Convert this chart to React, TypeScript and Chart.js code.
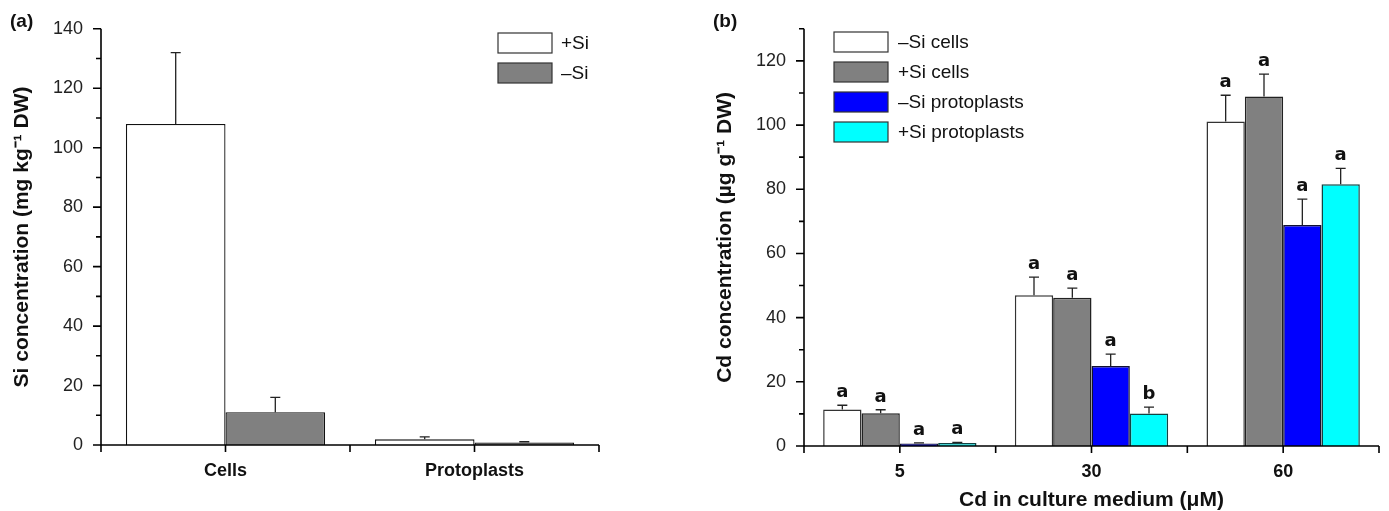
import React, { useEffect, useRef } from 'react';
import { Chart, registerables } from 'chart.js';

Chart.register(...registerables);

// ---------- Panel (a) data ----------
const groupsA = ['Cells', 'Protoplasts'];
const plusSiA = [108, 1.9];
const plusSiAErr = [24, 0.8];
const minusSiA = [11, 0.8];
const minusSiAErr = [5, 0.3];
const yMaxA = 140;
const yStepA = 20;

// ---------- Panel (b) data ----------
const dosesB = ['5', '30', '60'];
const minusSiCells = [11.4, 47.0, 101.1];
const minusSiCellsErr = [1.3, 5.6, 8.2];
const plusSiCells = [10.2, 46.2, 108.9];
const plusSiCellsErr = [1.1, 3.0, 7.0];
const minusSiProto = [0.8, 24.9, 68.9];
const minusSiProtoErr = [0.2, 3.7, 8.0];
const plusSiProto = [0.9, 10.1, 81.6];
const plusSiProtoErr = [0.2, 2.0, 4.9];
const lettersMinusSiCells = ['a', 'a', 'a'];
const lettersPlusSiCells = ['a', 'a', 'a'];
const lettersMinusSiProto = ['a', 'a', 'a'];
const lettersPlusSiProto = ['a', 'b', 'a'];
const yMaxB = 130;
const yStepB = 20;

const TICK_FONT = 'Liberation Sans, Arial, sans-serif';

type PanelCfg = {
  errors: number[][];
  letters?: string[][];
  legendX: number;
  legendY: number;
  legendTextX: number;
  legendFont: number;
  yTitle: string;
  yTitleX: number;
  xTitle?: string;
  xTitleY?: number;
  panelLabel: string;
  panelLabelX: number;
  yMax: number;
  yStep: number;
};

function makePlugin(cfg: PanelCfg) {
  return {
    id: 'customDraw',
    afterDatasetsDraw(chart: any) {
      const ctx = chart.ctx;
      const y = chart.scales.y;
      chart.data.datasets.forEach((ds: any, i: number) => {
        const meta = chart.getDatasetMeta(i);
        meta.data.forEach((bar: any, j: number) => {
          const v = ds.data[j] as number;
          const top = y.getPixelForValue(v + cfg.errors[i][j]);
          ctx.save();
          ctx.strokeStyle = '#222';
          ctx.lineWidth = 1.3;
          ctx.beginPath();
          ctx.moveTo(bar.x, bar.y);
          ctx.lineTo(bar.x, top);
          ctx.moveTo(bar.x - 5, top);
          ctx.lineTo(bar.x + 5, top);
          ctx.stroke();
          if (cfg.letters) {
            ctx.fillStyle = '#111';
            ctx.font = 'bold 18px "DejaVu Sans"';
            ctx.textAlign = 'center';
            ctx.textBaseline = 'alphabetic';
            ctx.fillText(cfg.letters[i][j], bar.x, top - 8);
          }
          ctx.restore();
        });
      });
    },
    afterDraw(chart: any) {
      const ctx = chart.ctx;
      const { left, right, top, bottom } = chart.chartArea;
      const x = chart.scales.x;
      const y = chart.scales.y;
      ctx.save();
      ctx.strokeStyle = '#000';
      ctx.lineWidth = 1.6;
      ctx.beginPath();
      ctx.moveTo(left, top);
      ctx.lineTo(left, bottom);
      ctx.moveTo(left, bottom);
      ctx.lineTo(right, bottom);
      // y ticks (major + minor)
      for (let v = 0; v <= cfg.yMax + 1e-6; v += cfg.yStep / 2) {
        const py = y.getPixelForValue(v);
        const len = Math.abs(v % cfg.yStep) < 1e-6 ? 8 : 5;
        ctx.moveTo(left - len, py);
        ctx.lineTo(left, py);
      }
      // x ticks at category centres and boundaries
      const n = chart.data.labels.length;
      for (let i = 0; i < n; i++) {
        const cx = x.getPixelForValue(i);
        ctx.moveTo(cx, bottom);
        ctx.lineTo(cx, bottom + 7);
      }
      for (let i = 0; i <= n; i++) {
        const bx = i === 0 ? left : i === n ? right : (x.getPixelForValue(i - 1) + x.getPixelForValue(i)) / 2;
        ctx.moveTo(bx, bottom);
        ctx.lineTo(bx, bottom + 7);
      }
      ctx.stroke();

      // y title
      ctx.fillStyle = '#111';
      ctx.font = 'bold 21px "Liberation Sans", Arial, sans-serif';
      ctx.textAlign = 'center';
      ctx.textBaseline = 'middle';
      ctx.save();
      ctx.translate(cfg.yTitleX, (top + bottom) / 2);
      ctx.rotate(-Math.PI / 2);
      ctx.fillText(cfg.yTitle, 0, 0);
      ctx.restore();

      // x title
      if (cfg.xTitle) {
        ctx.fillText(cfg.xTitle, (left + right) / 2, cfg.xTitleY as number);
      }

      // panel label
      ctx.font = 'bold 19px "Liberation Sans", Arial, sans-serif';
      ctx.textAlign = 'left';
      ctx.fillText(cfg.panelLabel, cfg.panelLabelX, 22);

      // legend
      ctx.font = `${cfg.legendFont}px "Liberation Sans", Arial, sans-serif`;
      chart.data.datasets.forEach((ds: any, i: number) => {
        const ly = cfg.legendY + i * 30;
        ctx.fillStyle = ds.backgroundColor;
        ctx.fillRect(cfg.legendX, ly, 54, 20);
        ctx.strokeStyle = '#333';
        ctx.lineWidth = 1.2;
        ctx.strokeRect(cfg.legendX, ly, 54, 20);
        ctx.fillStyle = '#111';
        ctx.textAlign = 'left';
        ctx.textBaseline = 'middle';
        ctx.fillText(ds.label, cfg.legendTextX, ly + 11);
      });
      ctx.restore();
    },
  };
}

function baseOptions(yMax: number, yStep: number, yWidth: number, xHeight: number, padding: any) {
  return {
    responsive: false,
    animation: false as const,
    devicePixelRatio: 1,
    layout: { padding },
    plugins: { legend: { display: false }, tooltip: { enabled: false } },
    datasets: { bar: { categoryPercentage: 0.8, barPercentage: 1.0 } },
    scales: {
      x: {
        type: 'category' as const,
        offset: true,
        grid: { display: false, drawTicks: false },
        border: { display: false },
        ticks: {
          color: '#111',
          padding: 15,
          font: { family: TICK_FONT, size: 18, weight: 'bold' as const },
          maxRotation: 0,
        },
        afterFit: (s: any) => {
          s.height = xHeight;
        },
      },
      y: {
        min: 0,
        max: yMax,
        grid: { display: false, drawTicks: false },
        border: { display: false },
        ticks: {
          stepSize: yStep,
          color: '#222',
          padding: 18,
          font: { family: TICK_FONT, size: 18 },
          callback: (v: any) => (Math.abs(v % yStep) < 1e-6 ? String(v) : ''),
        },
        afterFit: (s: any) => {
          s.width = yWidth;
        },
      },
    },
  };
}

function PanelA() {
  const ref = useRef<HTMLCanvasElement>(null);
  useEffect(() => {
    if (!ref.current) return;
    const cfg: PanelCfg = {
      errors: [plusSiAErr, minusSiAErr],
      legendX: 498,
      legendY: 33,
      legendTextX: 561,
      legendFont: 19,
      yTitle: 'Si concentration (mg kg⁻¹ DW)',
      yTitleX: 22,
      panelLabel: '(a)',
      panelLabelX: 10,
      yMax: yMaxA,
      yStep: yStepA,
    };
    const chart = new Chart(ref.current, {
      type: 'bar',
      data: {
        labels: groupsA,
        datasets: [
          { label: '+Si', data: plusSiA, backgroundColor: '#ffffff', borderColor: '#111', borderWidth: 1.3 },
          { label: '–Si', data: minusSiA, backgroundColor: '#808080', borderColor: '#111', borderWidth: 1.3 },
        ],
      },
      options: baseOptions(yMaxA, yStepA, 101, 66, { left: 0, right: 81, top: 22, bottom: 0 }) as any,
      plugins: [makePlugin(cfg)],
    });
    return () => chart.destroy();
  }, []);
  return <canvas ref={ref} width={680} height={511} style={{ width: 680, height: 511, display: 'block' }} />;
}

function PanelB() {
  const ref = useRef<HTMLCanvasElement>(null);
  useEffect(() => {
    if (!ref.current) return;
    const cfg: PanelCfg = {
      errors: [minusSiCellsErr, plusSiCellsErr, minusSiProtoErr, plusSiProtoErr],
      letters: [lettersMinusSiCells, lettersPlusSiCells, lettersMinusSiProto, lettersPlusSiProto],
      legendX: 154,
      legendY: 32,
      legendTextX: 218,
      legendFont: 19,
      yTitle: 'Cd concentration (µg g⁻¹ DW)',
      yTitleX: 45,
      xTitle: 'Cd in culture medium (μM)',
      xTitleY: 500,
      panelLabel: '(b)',
      panelLabelX: 33,
      yMax: yMaxB,
      yStep: yStepB,
    };
    const chart = new Chart(ref.current, {
      type: 'bar',
      data: {
        labels: dosesB,
        datasets: [
          { label: '–Si cells', data: minusSiCells, backgroundColor: '#ffffff', borderColor: '#333', borderWidth: 1.5 },
          { label: '+Si cells', data: plusSiCells, backgroundColor: '#808080', borderColor: '#222', borderWidth: 1.5 },
          { label: '–Si protoplasts', data: minusSiProto, backgroundColor: '#0000ff', borderColor: '#111133', borderWidth: 1.5 },
          { label: '+Si protoplasts', data: plusSiProto, backgroundColor: '#00ffff', borderColor: '#114444', borderWidth: 1.5 },
        ],
      },
      options: baseOptions(yMaxB, yStepB, 124, 65, { left: 0, right: 10, top: 20, bottom: 0 }) as any,
      plugins: [makePlugin(cfg)],
    });
    return () => chart.destroy();
  }, []);
  return <canvas ref={ref} width={709} height={511} style={{ width: 709, height: 511, display: 'block' }} />;
}

export default function App() {
  return (
    <div style={{ position: 'absolute', left: 0, top: 0, width: 1389, height: 511, background: '#fff', overflow: 'hidden' }}>
      <div style={{ position: 'absolute', left: 0, top: 0 }}>
        <PanelA />
      </div>
      <div style={{ position: 'absolute', left: 680, top: 0 }}>
        <PanelB />
      </div>
    </div>
  );
}
